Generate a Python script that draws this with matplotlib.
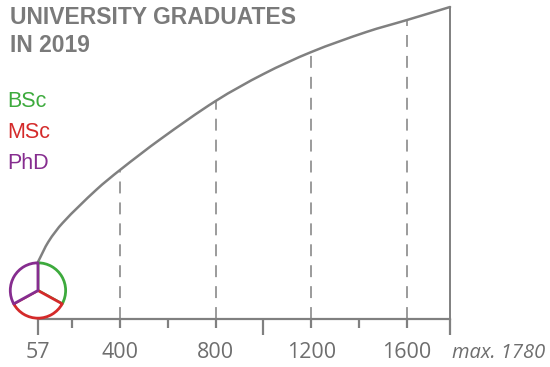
import matplotlib
matplotlib.use("Agg")
import matplotlib.pyplot as plt
from matplotlib.path import Path
from matplotlib.patches import PathPatch

# ---- data ----
counts = [57, 100, 160, 300, 400, 570, 800, 1000, 1200, 1430, 1600, 1780]
heights = [57, 77, 96, 129, 149, 180, 218, 245, 267, 287, 299, 312]

guide_counts = [400, 800, 1200, 1600]
guide_heights = [149, 218, 267, 299]
max_count = 1780
max_height = 312
min_count = 57
min_height = 57

tick_labels_at = [57, 400, 800, 1200, 1600]
tick_labels = ["57", "400", "800", "1200", "1600"]
major_ticks = [57, 1000, 1780]
minor_ticks = [200, 400, 600, 800, 1200, 1400, 1600]

degrees = ["BSc", "MSc", "PhD"]
degree_shares = [33, 34, 33]
degree_colors = ["#3daa3d", "#d42a2a", "#862d8f"]

title = "UNIVERSITY GRADUATES\nIN 2019"

GREY = "#808080"
TEXT_GREY = "#6e6e6e"

fig = plt.figure(figsize=(5.5, 3.67), dpi=100)
ax = fig.add_axes([0, 0, 1, 1])
ax.set_xlim(-101.7, 2197.9)
ax.set_ylim(-48, 319)
ax.patch.set_visible(False)

for s in ["top", "left", "right"]:
    ax.spines[s].set_visible(False)
ax.spines["bottom"].set_position(("data", 0))
ax.spines["bottom"].set_bounds(min_count, max_count)
ax.spines["bottom"].set_color(GREY)
ax.spines["bottom"].set_linewidth(1.6)
ax.set_yticks([])
ax.set_xticks(major_ticks)
ax.set_xticks(minor_ticks, minor=True)
ax.tick_params(axis="x", which="major", length=11.5, width=1.6, color=GREY,
               labelbottom=False)
ax.tick_params(axis="x", which="minor", length=6.5, width=1.6, color=GREY,
               labelbottom=False)

# curve: smooth Hermite/Bezier path through the read points (display space)
pts = ax.transData.transform(list(zip(counts, heights)))
n = len(pts)
slopes = []
for i in range(n):
    a = pts[max(i - 1, 0)]
    b = pts[min(i + 1, n - 1)]
    slopes.append((b[1] - a[1]) / (b[0] - a[0]))
verts = [tuple(pts[0])]
codes = [Path.MOVETO]
for i in range(n - 1):
    p1, p2 = pts[i], pts[i + 1]
    dx = (p2[0] - p1[0]) / 3.0
    c1 = (p1[0] + dx, p1[1] + slopes[i] * dx)
    c2 = (p2[0] - dx, p2[1] - slopes[i + 1] * dx)
    verts += [c1, c2, tuple(p2)]
    codes += [Path.CURVE4] * 3
path = Path(verts, codes)
ax.add_patch(PathPatch(path, transform=None, facecolor="none", edgecolor=GREY,
                       lw=1.8, capstyle="round", zorder=3))

# dashed guides
ax.vlines(guide_counts, 0, guide_heights, colors=GREY, lw=1.1,
          linestyles=[(0, (7.8, 5.9))], zorder=2)
ax.vlines([max_count], 0, [max_height], colors=GREY, lw=1.4, zorder=2)

# tick labels
for v, lab in zip(tick_labels_at, tick_labels):
    ax.text(v, -39, lab, ha="center", va="baseline", fontsize=15.5,
            family="Open Sans", color=TEXT_GREY)
ax.text(max_count + 8, -39, "max. %d" % max_count, ha="left", va="baseline",
        fontsize=14.5, family="Open Sans", style="italic", color=TEXT_GREY)

# title
fig.text(10 / 550, 1 - 6 / 367, title, ha="left", va="top", fontsize=16.5,
         family="Liberation Sans", weight="bold", color="#7a7a7a",
         linespacing=1.3)

# legend texts
for i, (d, c) in enumerate(zip(degrees, degree_colors)):
    fig.text(7 / 550, 1 - (107 + 31 * i) / 367, d, ha="left", va="baseline",
             fontsize=15.5, family="Liberation Sans", color=c)

# pie at the minimum count, diameter = curve height there
xpx = 0.23917  # pixels per count unit
w = min_height / xpx
pax = ax.inset_axes([min_count - w / 2, 0, w, min_height], transform=ax.transData)
wedges, _ = pax.pie(degree_shares, colors=["white"] * 3, startangle=90,
                    counterclock=False,
                    wedgeprops=dict(linewidth=2.0, joinstyle="round"))
for wdg, c in zip(wedges, degree_colors):
    wdg.set_edgecolor(c)
pax.set_xlim(-1.03, 1.03)
pax.set_ylim(-1.03, 1.03)
pax.set_zorder(4)

fig.savefig("out.png", dpi=100)
